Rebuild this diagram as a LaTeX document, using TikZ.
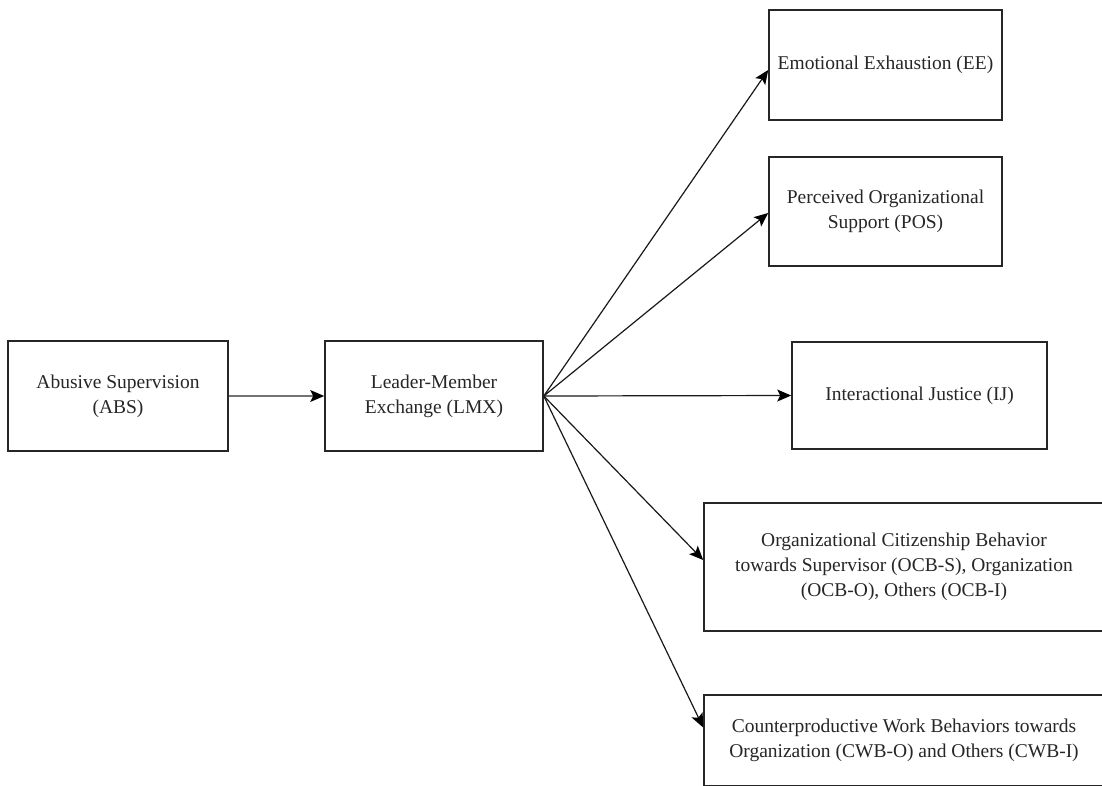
\documentclass[tikz,border=0pt]{standalone}
\usepackage{fontspec}
\setmainfont{Liberation Serif}
\usetikzlibrary{arrows.meta}
\begin{document}
\begin{tikzpicture}[x=1pt,y=-1pt,
  box/.style={draw=black!85, line width=1.6pt, inner sep=0pt, align=center,
    font=\fontsize{19.5}{25}\selectfont, text=black!85},
  link/.style={draw=black!90, line width=1.2pt, -{Stealth[length=14pt,width=12pt,inset=3pt,color=black]}},
  biglink/.style={draw=black!55, line width=2.6pt, -{Stealth[length=14pt,width=12pt,inset=3pt,color=black,line width=0pt]}}]
\useasboundingbox (0,0) rectangle (1102,785);
\clip (0,0) rectangle (1102,785);
\fill[white] (0,0) rectangle (1102,785);
\node[box, minimum width=220pt, minimum height=110pt] (abs) at (118,396) {Abusive Supervision\\(ABS)};
\node[box, minimum width=218pt, minimum height=110pt] (lmx) at (434,396) {Leader-Member\\Exchange (LMX)};
\node[box, minimum width=233pt, minimum height=110pt] (ee) at (885.5,65) {Emotional Exhaustion (EE)};
\node[box, minimum width=233pt, minimum height=109pt] (pos) at (885.5,211.5) {Perceived Organizational\\Support (POS)};
\node[box, minimum width=255pt, minimum height=107pt] (ij) at (919.5,395.5) {Interactional Justice (IJ)};
\node[box, minimum width=400pt, minimum height=128pt] (ocb) at (904,567) {Organizational Citizenship Behavior\\towards Supervisor (OCB-S), Organization\\(OCB-O), Others (OCB-I)};
\node[box, minimum width=400pt, minimum height=91pt] (cwb) at (904,740.5) {Counterproductive Work Behaviors towards\\Organization (CWB-O) and Others (CWB-I)};
\draw[biglink] (abs.east) -- (lmx.west);
\draw[link] (lmx.east) -- ([yshift=-5pt]ee.west);
\draw[link] (lmx.east) -- ([yshift=-1.5pt]pos.west);
\draw[link] (lmx.east) -- (ij.west);
\draw[link] (lmx.east) -- ([yshift=7pt]ocb.west);
\draw[link] (lmx.east) -- ([yshift=13pt]cwb.west);
\end{tikzpicture}
\end{document}
